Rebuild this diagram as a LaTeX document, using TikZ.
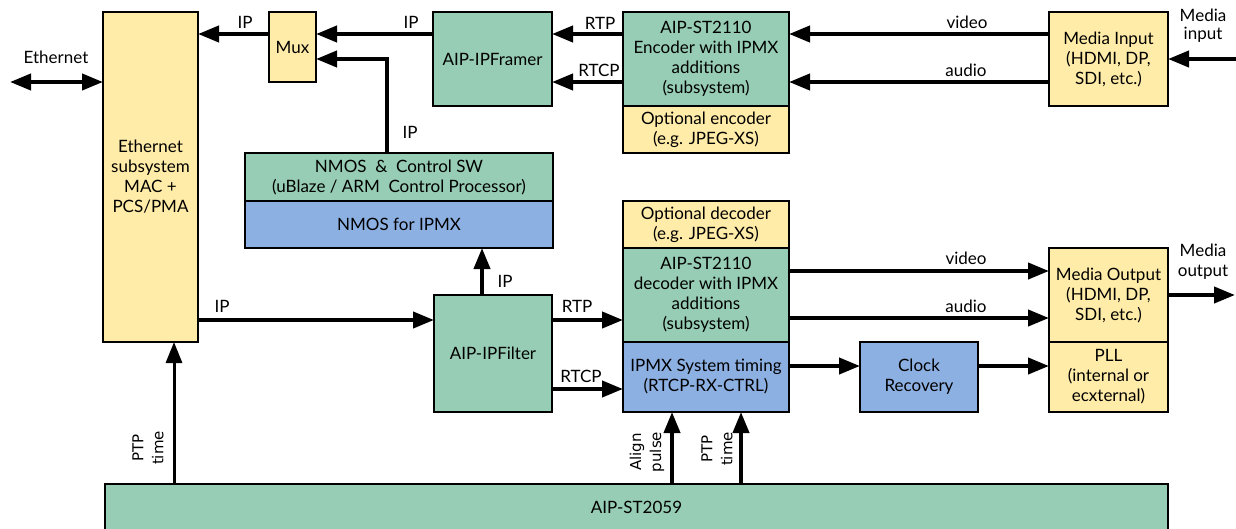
\documentclass[tikz,border=0pt]{standalone}
\usepackage{fontspec}
\setmainfont{Lato}
\newfontfamily\rotfont{DejaVu Sans}
\usetikzlibrary{arrows.meta}
\definecolor{ipgreen}{RGB}{150,205,180}
\definecolor{ipyellow}{RGB}{255,236,168}
\definecolor{ipblue}{RGB}{141,176,227}

\begin{document}
\begin{tikzpicture}[x=1pt, y=-1pt,
  block/.style={draw=black, line width=2pt, align=center, inner sep=0pt, outer sep=0pt, font=\fontsize{17}{20}\selectfont},
  greenblock/.style={block, fill=ipgreen},
  yellowblock/.style={block, fill=ipyellow},
  blueblock/.style={block, fill=ipblue},
  arr/.style={line width=4pt, -{Triangle[length=21pt, width=16pt]}},
  lbl/.style={font=\fontsize{17}{20}\selectfont, inner sep=0pt, anchor=base},
  rotlbl/.style={font=\rotfont\fontsize{15}{20}\selectfont, inner sep=0pt, align=center, rotate=90}]
\useasboundingbox (0,0) rectangle (1236,528);

% blocks, top row
\node[yellowblock, minimum width=95pt, minimum height=330pt] at (150.5, 177) (eth) {Ethernet\\subsystem\\MAC +\\PCS/PMA};
\node[yellowblock, minimum width=47pt, minimum height=70pt] at (292.5, 47) (mux) {Mux};
\node[greenblock, minimum width=119pt, minimum height=94pt] at (492.5, 59) (framer) {AIP-IPFramer};
\node[greenblock, minimum width=166pt, minimum height=94pt] at (706, 59) (enc) {AIP-ST2110\\Encoder with IPMX\\additions\\(subsystem)};
\node[yellowblock, minimum width=166pt, minimum height=47pt] at (706, 129.5) (optenc) {Optional encoder\\(e.g. JPEG-XS)};
\node[yellowblock, minimum width=119pt, minimum height=94pt] at (1108.5, 59) (medin) {Media Input\\(HDMI, DP,\\SDI, etc.)};

% blocks, middle
\node[greenblock, minimum width=308pt, minimum height=48pt] at (399, 177) (nmos) {NMOS \ \& \ Control SW\\(uBlaze / ARM \ Control Processor)};
\node[blueblock, minimum width=308pt, minimum height=47pt] at (399, 224.5) (nmosipmx) {NMOS for IPMX};
\node[greenblock, minimum width=118pt, minimum height=117pt] at (493, 353.5) (filter) {AIP-IPFilter};
\node[yellowblock, minimum width=166pt, minimum height=47pt] at (706, 224.5) (optdec) {Optional decoder\\(e.g. JPEG-XS)};
\node[greenblock, minimum width=166pt, minimum height=94pt] at (706, 295) (dec) {AIP-ST2110\\decoder with IPMX\\additions\\(subsystem)};
\node[blueblock, minimum width=166pt, minimum height=70pt] at (706, 377) (timing) {IPMX System timing\\(RTCP-RX-CTRL)};
\node[blueblock, minimum width=118pt, minimum height=70pt] at (919, 377) (clock) {Clock\\Recovery};
\node[yellowblock, minimum width=119pt, minimum height=94pt] at (1108.5, 295) (medout) {Media Output\\(HDMI, DP,\\SDI, etc.)};
\node[yellowblock, minimum width=119pt, minimum height=70pt] at (1108.5, 377) (pll) {PLL\\(internal or\\ecxternal)};
\node[greenblock, minimum width=1063pt, minimum height=46pt] at (636.5, 507) (st2059) {AIP-ST2059};

% free ends
\coordinate (ethend) at (10, 82);
\coordinate (inend) at (1236, 59);
\coordinate (outend) at (1235, 295);

% connectors
\draw[arr, {Triangle[length=21pt, width=16pt]}-{Triangle[length=21pt, width=16pt]}] (ethend) -- (eth.west |- ethend);
\draw[arr] (mux.west |- 0,34) -- (eth.east |- 0,34);
\draw[arr] (framer.west |- 0,34) -- (mux.east |- 0,34);
\draw[arr] (nmos.north -| 387,0) |- (mux.east |- 0,59);
\draw[arr] (enc.west |- 0,34) -- (framer.east |- 0,34);
\draw[arr] (enc.west |- 0,82) -- (framer.east |- 0,82);
\draw[arr] (medin.west |- 0,34) -- (enc.east |- 0,34);
\draw[arr] (medin.west |- 0,82) -- (enc.east |- 0,82);
\draw[arr] (inend) -- (medin.east |- inend);
\draw[arr] (eth.east |- 0,320) -- (filter.west |- 0,320);
\draw[arr] (filter.north -| 482,0) -- (nmosipmx.south -| 482,0);
\draw[arr] (filter.east |- 0,320) -- (dec.west |- 0,320);
\draw[arr] (filter.east |- 0,389) -- (timing.west |- 0,389);
\draw[arr] (dec.east |- 0,271) -- (medout.west |- 0,271);
\draw[arr] (dec.east |- 0,318) -- (medout.west |- 0,318);
\draw[arr] (medout.east |- outend) -- (outend);
\draw[arr] (timing.east |- 0,366) -- (clock.west |- 0,366);
\draw[arr] (clock.east |- 0,366) -- (pll.west |- 0,366);
\draw[arr, line width=3pt] (st2059.north -| 174,0) -- (eth.south -| 174,0);
\draw[arr] (st2059.north -| 672,0) -- (timing.south -| 672,0);
\draw[arr] (st2059.north -| 741,0) -- (timing.south -| 741,0);

% labels
\node[lbl] at (56, 63) (lethernet) {Ethernet};
\node[lbl] at (245, 28) (lipmux) {IP};
\node[lbl] at (411, 28) (lipframer) {IP};
\node[lbl] at (410, 138) (lipnmos) {IP};
\node[lbl] at (600, 29) (lrtpenc) {RTP};
\node[lbl] at (599, 76) (lrtcpenc) {RTCP};
\node[lbl] at (967, 28) (lvideoin) {video};
\node[lbl] at (966, 76) (laudioin) {audio};
\node[font=\fontsize{17}{18}\selectfont, align=center, inner sep=0pt] at (1203, 26) (lmedin) {Media\\input};
\node[lbl] at (222, 312) (lipeth) {IP};
\node[lbl] at (505, 287) (lipfilter) {IP};
\node[lbl] at (577, 312) (lrtpdec) {RTP};
\node[lbl] at (581, 382) (lrtcpdec) {RTCP};
\node[lbl] at (966, 264) (lvideoout) {video};
\node[lbl] at (966, 312) (laudioout) {audio};
\node[font=\fontsize{17}{20}\selectfont, align=center, inner sep=0pt] at (1203, 262) (lmedout) {Media\\output};
\node[rotlbl] at (148, 448) (lptpeth) {PTP\\time};
\node[rotlbl] at (647, 452) (lalign) {Align\\pulse};
\node[rotlbl] at (717, 449) (lptptiming) {PTP\\time};
\end{tikzpicture}
\end{document}
